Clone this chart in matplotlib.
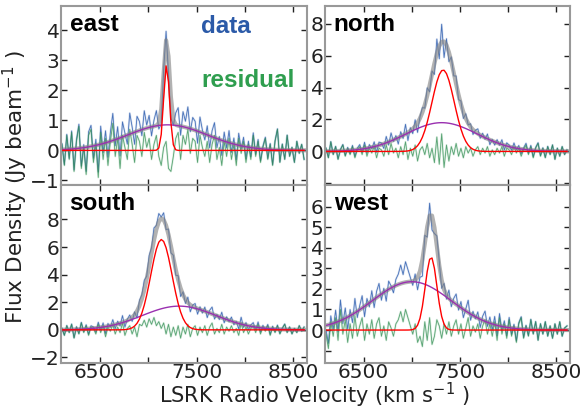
import numpy as np
import matplotlib
matplotlib.use('Agg')
import matplotlib.pyplot as plt

# velocity channels (km/s)
vel = np.arange(6110, 8611, 25)

# fit components: (amplitude Jy/beam, centre km/s, sigma km/s)
narrow = {'east': (2.85, 7190, 30), 'north': (5.1, 7325, 115),
          'south': (6.55, 7137, 110), 'west': (3.55, 7200, 60)}
broad = {'east': (0.85, 7200, 410), 'north': (1.8, 7310, 370),
         'south': (1.72, 7320, 380), 'west': (2.35, 7000, 410)}

# residuals (data - fit)
resid_east = [0.2, -0.5, 0.5, -0.3, 0.6, -0.7, 0.3, 0.8, -0.6, 0.1,
              -0.8, 0.5, 0.7, -0.4, 0.2, -0.9, 0.6, -0.3, 0.4, -0.5,
              0.3, 0.9, -0.2, 0.4, -0.6, 0.5, 0.1, -0.3, 0.7, 0.2,
              -0.4, 0.5, 0.3, -0.2, 0.6, 0.1, 0.4, -0.3, 0.2, 0.5,
              -0.2, -0.5, 0.1, 0.3, -0.6, -0.7, -0.2, 0.4, 0.6, -0.3,
              0.5, 0.2, 0.7, -0.1, 0.4, 0.3, -0.4, 0.5, 0.1, -0.2,
              0.3, -0.4, 0.2, 0.5, -0.3, 0.1, -0.5, 0.3, -0.2, 0.4,
              -0.3, 0.2, -0.5, 0.4, -0.1, 0.3, -0.4, 0.2, -0.3, 0.5,
              -0.2, 0.3, -0.4, 0.1, 0.4, -0.3, 0.2, -0.5, 0.3, 0.7,
              -0.4, 0.2, -0.3, 0.5, -0.2, 0.1, -0.4, 0.3, -0.1, 0.2,
              -0.3]
resid_north = [0.2, -0.4, 0.6, -0.2, 0.3, -0.5, 0.1, 0.4, -0.3, 0.2,
               -0.2, 0.3, -0.4, 0.1, 0.3, -0.2, 0.4, -0.3, 0.2, -0.1,
               0.3, -0.4, 0.2, 0.1, -0.3, 0.4, -0.2, 0.5, -0.1, 0.2,
               -0.4, 0.3, -0.2, 0.6, -0.5, 0.2, -0.3, 0.4, -0.6, 0.1,
               0.3, -0.2, 0.5, -0.4, 0.2, -0.7, 0.9, -0.8, 1.1, -1.0,
               0.4, -0.6, 0.3, -0.2, 0.5, -0.3, 0.2, -0.4, 0.3, -0.1,
               0.2, -0.3, 0.1, 0.3, -0.2, 0.2, -0.1, 0.3, -0.3, 0.1,
               -0.2, 0.2, -0.1, 0.3, -0.3, 0.2, 0.1, -0.2, 0.3, -0.1,
               0.2, -0.3, 0.1, 0.4, -0.2, 0.3, -0.4, 0.2, 0.5, -0.3,
               0.2, -0.4, 0.3, -0.2, 0.4, -0.5, 0.2, -0.3, 0.3, -0.2,
               0.1]
resid_south = [0.1, -0.4, 0.3, -0.2, 0.4, -0.6, 0.2, -0.3, 0.5, -0.2,
               0.3, -0.4, 0.2, 0.1, -0.3, 0.4, -0.2, 0.3, -0.5, 0.2,
               -0.1, 0.4, -0.3, 0.2, -0.2, 0.5, -0.4, 0.1, 0.3, -0.3,
               0.2, -0.5, 0.4, 0.3, 0.7, 0.2, 0.8, 0.4, 0.9, 0.3,
               0.6, 0.1, 0.5, -0.3, 0.4, -0.5, 0.2, -0.4, 0.3, -0.6,
               0.2, -0.3, 0.4, -0.5, 0.1, 0.3, -0.4, 0.2, -0.2, 0.3,
               -0.4, 0.2, 0.5, -0.3, 0.1, -0.2, 0.4, -0.3, 0.2, -0.1,
               0.3, -0.2, 0.1, -0.4, 0.5, -0.2, 0.2, -0.3, 0.1, 0.3,
               -0.2, 0.4, -0.3, 0.2, -0.1, 0.3, -0.4, 0.2, -0.2, 0.3,
               -0.3, 0.1, 0.4, -0.2, 0.2, -0.3, 0.1, -0.2, 0.3, -0.1,
               0.2]
resid_west = [-0.2, -0.9, 0.4, -0.3, 0.6, -0.5, 1.0, -0.2, 0.5, -0.6,
              0.3, -0.4, 0.7, -0.3, 0.2, 0.6, -0.5, 0.3, -0.2, 0.5,
              -0.4, 0.3, 0.6, -0.3, 0.2, -0.5, 0.4, 0.1, -0.3, 0.3,
              0.5, 0.9, 0.4, 1.0, 0.6, 0.2, -0.2, 0.3, -0.6, -0.3,
              -0.8, 0.4, -0.5, 0.6, -0.7, -0.3, 0.5, 0.2, -0.4, 0.3,
              -0.2, 0.4, -0.3, 0.2, 0.5, -0.2, 0.3, -0.4, 0.1, 0.6,
              -0.3, 0.2, -0.1, 0.3, -0.4, 0.2, 0.5, -0.2, 0.3, -0.3,
              0.4, -0.5, 0.6, -0.2, 0.3, -0.4, 0.5, -0.3, 0.2, -0.6,
              0.3, 0.6, -0.4, 0.2, -0.3, 0.5, -0.2, 0.4, -0.5, 0.3,
              -0.2, 0.4, -0.3, 0.2, -0.4, 0.3, -0.2, 0.4, -0.3, 0.1,
              0.2]
resids = {'east': resid_east, 'north': resid_north,
          'south': resid_south, 'west': resid_west}

ylims = {'east': (-1.15, 4.8), 'north': (-2.1, 9.1),
         'south': (-2.4, 10.5), 'west': (-1.6, 7.05)}
# labelled y ticks, plus unlabelled ones at the bottom
yticks = {'east': [-1, 0, 1, 2, 3, 4], 'north': [0, 2, 4, 6, 8],
          'south': [-2, 0, 2, 4, 6, 8], 'west': [0, 1, 2, 3, 4, 5, 6]}
yticks_bare = {'east': [], 'north': [-2], 'south': [], 'west': [-1]}
xticks = [6500, 7500, 8500]
xticks_bare = [7000, 8000]


def gauss(v, p):
    a, c, s = p
    return a * np.exp(-(v - c) ** 2 / (2 * s ** 2))


fig = plt.figure(figsize=(5.83, 4.12), dpi=100)
boxes = {'east': [0.1046, 0.551, 0.422, 0.4344],
         'north': [0.5575, 0.551, 0.420, 0.4344],
         'south': [0.1046, 0.119, 0.422, 0.432],
         'west': [0.5575, 0.119, 0.420, 0.432]}

for name in ['east', 'north', 'south', 'west']:
    ax = fig.add_axes(boxes[name])
    g1 = gauss(vel, narrow[name])
    g2 = gauss(vel, broad[name])
    fit = g1 + g2
    res = np.array(resids[name])
    data = fit + res

    ax.plot(vel, data, color='#3a68b8', lw=1.5, alpha=0.2)
    ax.plot(vel, data, color='#2f5fb0', lw=0.6, alpha=0.85)
    ax.plot(vel, res, color='#4aa865', lw=1.5, alpha=0.2)
    ax.plot(vel, res, color='#2e8b50', lw=0.6, alpha=0.75)
    ax.plot(vel, fit, color='grey', lw=3, alpha=0.6)
    ax.plot(vel, g2, color='#9a30b0', lw=1)
    ax.plot(vel, g1, color='red', lw=1)

    ax.set_xlim(6100, 8640)
    ax.set_ylim(*ylims[name])
    ax.set_yticks(yticks[name])
    ax.set_yticklabels([str(t).replace('-', '\u2212') for t in yticks[name]])
    ax.set_yticks(yticks_bare[name], minor=True)
    ax.set_xticks(xticks)
    ax.set_xticks(xticks_bare, minor=True)
    if name not in ('south', 'west'):
        ax.set_xticklabels([])
    ax.tick_params(which='both', direction='in', top=True, right=True,
                   length=4, width=1, labelsize=14.5, pad=1, color='#222222',
                   labelcolor='#222222')
    ax.tick_params(axis='x', pad=0)
    for sp in ax.spines.values():
        sp.set_color('#999999')
        sp.set_linewidth(1.5)

    top = boxes[name][3] * 412
    ax.text(0.035, 1 - 25 / top, name, transform=ax.transAxes,
            fontsize=17.5, fontweight='bold', family='Liberation Sans',
            va='baseline', ha='left')
    if name == 'east':
        ax.text(0.569, 1 - 27 / top, 'data', transform=ax.transAxes,
                fontsize=17.5, fontweight='bold', family='Liberation Sans',
                color='#2b5aa8', va='baseline')
        ax.text(0.569, 1 - 81 / top, 'residual', transform=ax.transAxes,
                fontsize=17.5, fontweight='bold', family='Liberation Sans',
                color='#2f9e4f', va='baseline')

fig.text(0.027, 0.545, 'Flux Density (Jy beam$^{-1}$ )', rotation=90,
         ha='center', va='center', fontsize=15.5, color='#222222')
fig.text(0.54, 0.006, 'LSRK Radio Velocity (km s$^{-1}$ )',
         ha='center', va='bottom', fontsize=15, color='#222222')

fig.savefig('out.png', dpi=100)
